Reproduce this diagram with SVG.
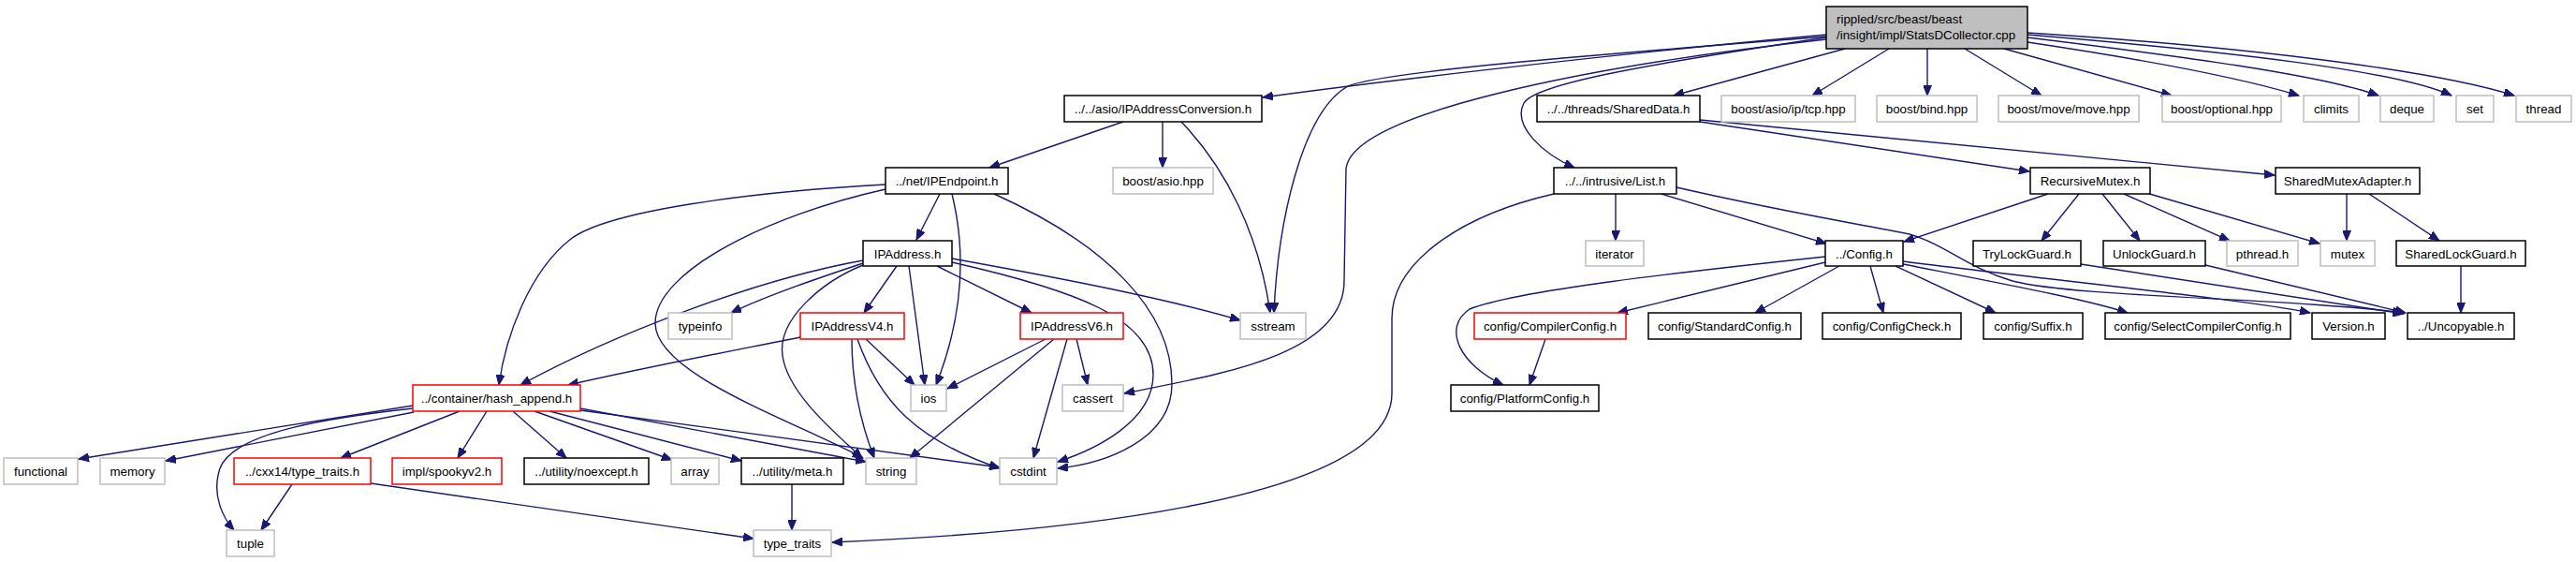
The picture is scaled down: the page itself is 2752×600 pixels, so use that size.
<svg xmlns="http://www.w3.org/2000/svg" width="2752" height="600" viewBox="0 0 2752 600">
<style>
rect{fill:#fff;stroke-width:1.5}
.b{stroke:#000}
.g{stroke:#bfbfbf}
.r{stroke:#ff0000}
.m{fill:#bfbfbf;stroke:#000}
text{font-family:"Liberation Sans",Arial,sans-serif;font-size:13.33px;fill:#000;text-anchor:middle}
.l{text-anchor:start}
#edges path{fill:none;stroke:#191970;stroke-width:1.4;marker-end:url(#a)}
</style>
<defs>
<marker id="a" markerUnits="userSpaceOnUse" markerWidth="12" markerHeight="9" refX="11" refY="4.5" orient="auto">
<path d="M0,0 L11,4.5 L0,9 z" fill="#191970" stroke="#191970" stroke-width="1"/>
</marker>
</defs>
<rect width="2752" height="600" style="fill:#fff;stroke:none"/>
<g id="edges">
<path d="M1951,37 C1700,60 1450,90 1349,104"/>
<path d="M1951,39 C1750,55 1480,75 1440,92 C1390,120 1365,240 1361,334"/>
<path d="M1951,42 C1700,70 1445,120 1438,180 L1436,300 C1436,380 1300,400 1201,420"/>
<path d="M1951,40 C1750,70 1640,90 1628,110 C1615,135 1650,165 1682,179"/>
<path d="M1971,52 L1788,102"/>
<path d="M2018,52 L1936,102"/>
<path d="M2059,52 L2059,102"/>
<path d="M2099,52 L2181,102"/>
<path d="M2141,52 L2320,102"/>
<path d="M2166,45 C2300,65 2400,85 2456,102"/>
<path d="M2166,40 C2330,60 2480,80 2541,102"/>
<path d="M2166,37 C2380,55 2560,75 2619,102"/>
<path d="M2166,35 C2400,50 2600,75 2686,102"/>
<path d="M1200,130 L1057,179"/>
<path d="M1242,130 L1242,179"/>
<path d="M1262,130 C1310,180 1345,250 1357,334"/>
<path d="M946,197 C800,205 650,225 610,255 C565,290 540,360 533,411"/>
<path d="M1004,207 L979,256"/>
<path d="M1017,207 C1030,260 1032,330 1000,411"/>
<path d="M946,202 C820,230 700,290 700,345 C700,400 850,450 922,489"/>
<path d="M1062,207 C1180,260 1252,330 1252,410 C1252,470 1180,495 1130,500"/>
<path d="M922,278 C800,300 650,360 556,411"/>
<path d="M922,281 C880,295 820,315 781,334"/>
<path d="M922,283 C880,300 830,340 836,380 C842,420 890,460 921,489"/>
<path d="M958,284 L923,334"/>
<path d="M1001,284 L1102,334"/>
<path d="M971,284 L988,411"/>
<path d="M1017,276 C1150,300 1250,320 1325,342"/>
<path d="M1017,280 C1150,310 1232,340 1232,400 C1232,450 1170,480 1130,493"/>
<path d="M855,360 C780,375 700,390 607,411"/>
<path d="M925,362 L977,411"/>
<path d="M910,362 C910,400 915,440 934,489"/>
<path d="M916,362 C940,430 980,470 1068,500"/>
<path d="M1117,362 L1012,415"/>
<path d="M1126,362 L972,489"/>
<path d="M1140,362 L1104,489"/>
<path d="M1150,362 L1162,411"/>
<path d="M441,433 L84,490"/>
<path d="M442,440 L177,492"/>
<path d="M441,436 C360,445 250,460 235,500 C225,530 240,555 250,566"/>
<path d="M491,439 L364,489"/>
<path d="M520,439 L489,489"/>
<path d="M548,439 L605,489"/>
<path d="M571,439 L718,491"/>
<path d="M587,439 L792,492"/>
<path d="M620,436 L925,493"/>
<path d="M620,438 L1068,499"/>
<path d="M312,517 L279,566"/>
<path d="M396,516 L805,575"/>
<path d="M846,517 L846,566"/>
<path d="M1660,207 C1560,230 1487,280 1487,340 L1487,420 C1487,540 1100,570 889,579"/>
<path d="M1726,207 L1726,257"/>
<path d="M1775,207 L1951,260"/>
<path d="M1791,200 C1900,225 1990,240 2040,250 C2080,262 2100,285 2150,300 C2220,318 2450,318 2567,334"/>
<path d="M1816,130 L2168,183"/>
<path d="M1816,128 L2430,187"/>
<path d="M2188,207 L2034,258"/>
<path d="M2221,207 L2181,257"/>
<path d="M2246,207 L2286,257"/>
<path d="M2269,207 L2382,257"/>
<path d="M2293,206 L2478,260"/>
<path d="M2507,207 L2507,257"/>
<path d="M2531,207 L2606,257"/>
<path d="M2629,284 L2629,334"/>
<path d="M2223,282 L2568,335"/>
<path d="M2356,283 L2570,334"/>
<path d="M1950,274 C1800,290 1620,310 1570,330 C1540,350 1560,390 1606,411"/>
<path d="M1950,280 L1728,334"/>
<path d="M1965,284 L1875,334"/>
<path d="M1998,284 L2012,334"/>
<path d="M2025,284 L2132,334"/>
<path d="M2033,282 C2150,305 2230,320 2273,334"/>
<path d="M2033,279 C2200,300 2400,320 2468,334"/>
<path d="M1651,362 L1634,411"/>
</g>
<g id="n_main"><rect class="m" x="1951" y="7" width="215" height="45"/><text class="l" x="1962" y="25">rippled/src/beast/beast</text><text class="l" x="1962" y="42">/insight/impl/StatsDCollector.cpp</text></g>
<g id="n_conv"><rect class="b" x="1137" y="102" width="211" height="28"/><text x="1242.5" y="121">../../asio/IPAddressConversion.h</text></g>
<g id="n_shareddata"><rect class="b" x="1642" y="102" width="174" height="28"/><text x="1729" y="121">../../threads/SharedData.h</text></g>
<g id="n_tcp"><rect class="g" x="1839" y="102" width="143" height="28"/><text x="1910.5" y="121">boost/asio/ip/tcp.hpp</text></g>
<g id="n_bind"><rect class="g" x="2005" y="102" width="107" height="28"/><text x="2058.5" y="121">boost/bind.hpp</text></g>
<g id="n_move"><rect class="g" x="2135" y="102" width="150" height="28"/><text x="2210" y="121">boost/move/move.hpp</text></g>
<g id="n_optional"><rect class="g" x="2310" y="102" width="127" height="28"/><text x="2373.5" y="121">boost/optional.hpp</text></g>
<g id="n_climits"><rect class="g" x="2461" y="102" width="59" height="28"/><text x="2490.5" y="121">climits</text></g>
<g id="n_deque"><rect class="g" x="2543" y="102" width="57" height="28"/><text x="2571.5" y="121">deque</text></g>
<g id="n_set"><rect class="g" x="2624" y="102" width="40" height="28"/><text x="2644" y="121">set</text></g>
<g id="n_thread"><rect class="g" x="2688" y="102" width="59" height="28"/><text x="2717.5" y="121">thread</text></g>
<g id="n_ipendpoint"><rect class="b" x="946" y="179" width="131" height="28"/><text x="1011.5" y="198">../net/IPEndpoint.h</text></g>
<g id="n_asio"><rect class="g" x="1189" y="179" width="107" height="28"/><text x="1242.5" y="198">boost/asio.hpp</text></g>
<g id="n_list"><rect class="b" x="1660" y="179" width="131" height="28"/><text x="1725.5" y="198">../../intrusive/List.h</text></g>
<g id="n_recmutex"><rect class="b" x="2169" y="179" width="128" height="28"/><text x="2233" y="198">RecursiveMutex.h</text></g>
<g id="n_sma"><rect class="b" x="2431" y="179" width="154" height="28"/><text x="2508" y="198">SharedMutexAdapter.h</text></g>
<g id="n_ipaddress"><rect class="b" x="922" y="257" width="95" height="27"/><text x="969.5" y="275.5">IPAddress.h</text></g>
<g id="n_iterator"><rect class="g" x="1694" y="257" width="62" height="27"/><text x="1725" y="275.5">iterator</text></g>
<g id="n_config"><rect class="b" x="1950" y="257" width="83" height="27"/><text x="1991.5" y="275.5">../Config.h</text></g>
<g id="n_trylock"><rect class="b" x="2108" y="257" width="115" height="27"/><text x="2165.5" y="275.5">TryLockGuard.h</text></g>
<g id="n_unlock"><rect class="b" x="2247" y="257" width="109" height="27"/><text x="2301.5" y="275.5">UnlockGuard.h</text></g>
<g id="n_pthread"><rect class="g" x="2379" y="257" width="76" height="27"/><text x="2417" y="275.5">pthread.h</text></g>
<g id="n_mutex"><rect class="g" x="2479" y="257" width="58" height="27"/><text x="2508" y="275.5">mutex</text></g>
<g id="n_slg"><rect class="b" x="2560" y="257" width="138" height="27"/><text x="2629" y="275.5">SharedLockGuard.h</text></g>
<g id="n_typeinfo"><rect class="g" x="714" y="334" width="68" height="28"/><text x="748" y="353">typeinfo</text></g>
<g id="n_v4"><rect class="r" x="855" y="334" width="111" height="28"/><text x="910.5" y="353">IPAddressV4.h</text></g>
<g id="n_v6"><rect class="r" x="1090" y="334" width="110" height="28"/><text x="1145" y="353">IPAddressV6.h</text></g>
<g id="n_sstream"><rect class="g" x="1325" y="334" width="70" height="28"/><text x="1360" y="353">sstream</text></g>
<g id="n_compilercfg"><rect class="r" x="1575" y="334" width="162" height="28"/><text x="1656" y="353">config/CompilerConfig.h</text></g>
<g id="n_standardcfg"><rect class="b" x="1761" y="334" width="163" height="28"/><text x="1842.5" y="353">config/StandardConfig.h</text></g>
<g id="n_configcheck"><rect class="b" x="1947" y="334" width="148" height="28"/><text x="2021" y="353">config/ConfigCheck.h</text></g>
<g id="n_suffix"><rect class="b" x="2119" y="334" width="106" height="28"/><text x="2172" y="353">config/Suffix.h</text></g>
<g id="n_scc"><rect class="b" x="2249" y="334" width="198" height="28"/><text x="2348" y="353">config/SelectCompilerConfig.h</text></g>
<g id="n_version"><rect class="b" x="2470" y="334" width="78" height="28"/><text x="2509" y="353">Version.h</text></g>
<g id="n_uncopyable"><rect class="b" x="2572" y="334" width="114" height="28"/><text x="2629" y="353">../Uncopyable.h</text></g>
<g id="n_hash"><rect class="r" x="441" y="411" width="179" height="28"/><text x="530.5" y="430">../container/hash_append.h</text></g>
<g id="n_ios"><rect class="g" x="973" y="411" width="38" height="28"/><text x="992" y="430">ios</text></g>
<g id="n_cassert"><rect class="g" x="1135" y="411" width="65" height="28"/><text x="1167.5" y="430">cassert</text></g>
<g id="n_platformcfg"><rect class="b" x="1550" y="411" width="158" height="28"/><text x="1629" y="430">config/PlatformConfig.h</text></g>
<g id="n_functional"><rect class="g" x="4" y="489" width="79" height="28"/><text x="43.5" y="508">functional</text></g>
<g id="n_memory"><rect class="g" x="107" y="489" width="69" height="28"/><text x="141.5" y="508">memory</text></g>
<g id="n_cxx14"><rect class="r" x="250" y="489" width="146" height="28"/><text x="323" y="508">../cxx14/type_traits.h</text></g>
<g id="n_spooky"><rect class="r" x="419" y="489" width="117" height="28"/><text x="477.5" y="508">impl/spookyv2.h</text></g>
<g id="n_noexcept"><rect class="b" x="560" y="489" width="133" height="28"/><text x="626.5" y="508">../utility/noexcept.h</text></g>
<g id="n_array"><rect class="g" x="717" y="489" width="51" height="28"/><text x="742.5" y="508">array</text></g>
<g id="n_meta"><rect class="b" x="792" y="489" width="109" height="28"/><text x="846.5" y="508">../utility/meta.h</text></g>
<g id="n_string"><rect class="g" x="925" y="489" width="54" height="28"/><text x="952" y="508">string</text></g>
<g id="n_cstdint"><rect class="g" x="1068" y="489" width="61" height="28"/><text x="1098.5" y="508">cstdint</text></g>
<g id="n_tuple"><rect class="g" x="242" y="566" width="51" height="28"/><text x="267.5" y="585">tuple</text></g>
<g id="n_typetraits"><rect class="g" x="805" y="566" width="83" height="28"/><text x="846.5" y="585">type_traits</text></g>
</svg>
